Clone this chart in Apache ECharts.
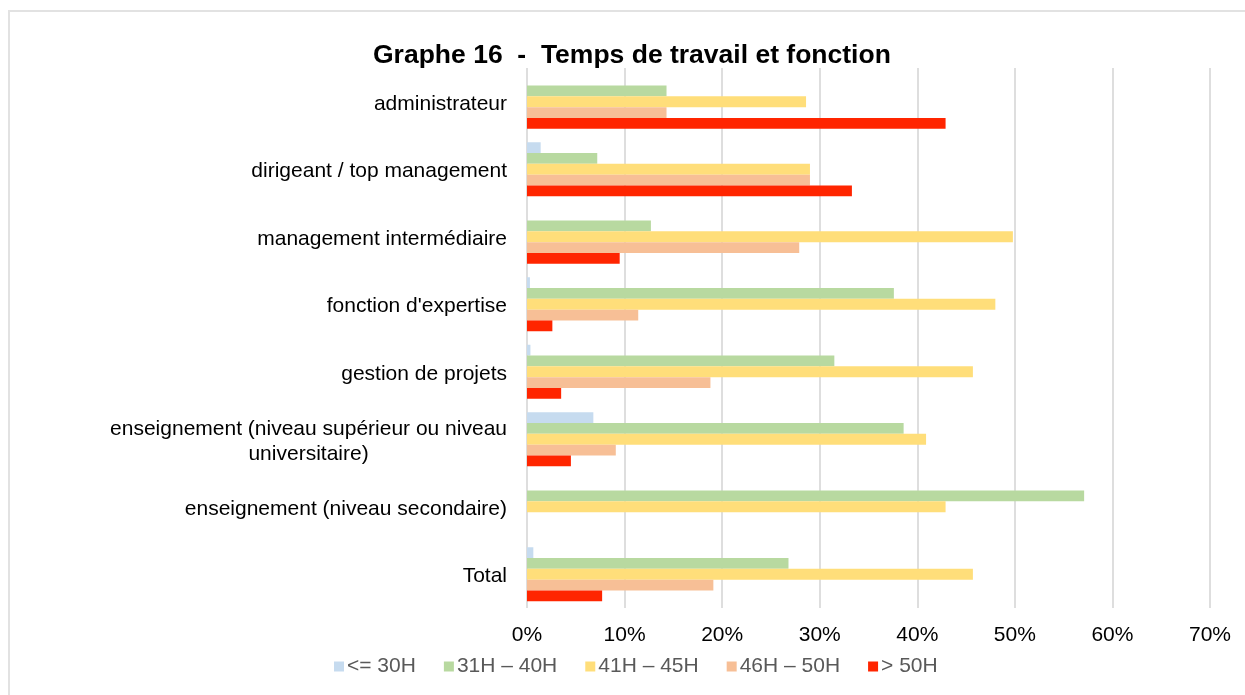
<!DOCTYPE html>
<html>
<head>
<meta charset="utf-8">
<script src="https://cdn.jsdelivr.net/npm/echarts@6/dist/echarts.min.js"></script>
<style>
  html, body { margin: 0; padding: 0; background: #fff; }
  #chart { width: 1245px; height: 695px; }
</style>
</head>
<body>
<div id="chart"></div>
<script>
const fontFamily = '"Liberation Sans", Arial, sans-serif';

const categories = [
  "administrateur",
  "dirigeant / top management",
  "management intermédiaire",
  "fonction d'expertise",
  "gestion de projets",
  "enseignement (niveau supérieur ou niveau universitaire)",
  "enseignement (niveau secondaire)",
  "Total",
];
const seriesNames = ["<= 30H", "31H – 40H", "41H – 45H", "46H – 50H", "> 50H"];
const seriesColors = ["#c6dbef", "#b8d9a0", "#ffde7a", "#f7bf96", "#ff2500"];

// values in %
const upTo30 = [0, 1.4, 0, 0.3, 0.35, 6.8, 0, 0.65];
const from31to40 = [14.3, 7.2, 12.7, 37.6, 31.5, 38.6, 57.1, 26.8];
const from41to45 = [28.6, 29.0, 49.8, 48.0, 45.7, 40.9, 42.9, 45.7];
const from46to50 = [14.3, 29.0, 27.9, 11.4, 18.8, 9.1, 0, 19.1];
const over50 = [42.9, 33.3, 9.5, 2.6, 3.5, 4.5, 0, 7.7];

const xTicks = { min: 0, max: 70, interval: 10 };

const seriesData = [upTo30, from31to40, from41to45, from46to50, over50];

const chart = echarts.init(document.getElementById("chart"));

const options = {
  backgroundColor: "#ffffff",
  animation: false,
  textStyle: { fontFamily: fontFamily },
  title: {
    text: "Graphe 16  -  Temps de travail et fonction",
    left: 373,
    top: 42,
    padding: 0,
    textStyle: {
      fontFamily: fontFamily,
      fontSize: 26.5,
      fontWeight: "bold",
      color: "#000000",
    },
  },
  graphic: [
    {
      type: "rect",
      shape: { x: 9, y: 11, width: 1400, height: 900 },
      style: { fill: "none", stroke: "#e2e2e2", lineWidth: 2 },
      silent: true,
    },
  ],
  legend: {
    left: 329,
    top: 651,
    itemWidth: 10,
    itemHeight: 10,
    itemGap: 28,
    icon: "rect",
    textStyle: {
      fontFamily: fontFamily,
      fontSize: 21,
      color: "#595959",
      padding: [0, 0, 0, -2],
    },
    data: seriesNames,
  },
  grid: {
    left: 527,
    right: 35,
    top: 68,
    bottom: 87,
    containLabel: false,
  },
  xAxis: {
    type: "value",
    min: xTicks.min,
    max: xTicks.max,
    interval: xTicks.interval,
    axisLine: { show: false },
    axisTick: { show: false },
    axisLabel: {
      formatter: "{value}%",
      fontFamily: fontFamily,
      fontSize: 21,
      color: "#000000",
      margin: 17,
    },
    splitLine: { show: true, lineStyle: { color: "#dedede", width: 2 } },
  },
  yAxis: {
    type: "category",
    inverse: true,
    data: categories,
    axisLine: { show: false },
    axisTick: { show: false },
    axisLabel: {
      fontFamily: fontFamily,
      fontSize: 21,
      color: "#000000",
      margin: 20,
      padding: [4, 0, 0, 0],
      formatter: function (value) {
        if (value.indexOf("universitaire") >= 0) {
          return "{c|enseignement (niveau supérieur ou niveau}\n{c|universitaire)}";
        }
        return value;
      },
      rich: {
        c: {
          align: "center",
          fontFamily: fontFamily,
          fontSize: 21,
          color: "#000000",
          lineHeight: 25,
        },
      },
    },
  },
  series: seriesNames.map((name, i) => {
    return {
      name: name,
      type: "bar",
      data: seriesData[i],
      barGap: "0%",
      barCategoryGap: "20%",
      itemStyle: { color: seriesColors[i] },
    };
  }),
};

chart.setOption(options);
</script>
</body>
</html>
